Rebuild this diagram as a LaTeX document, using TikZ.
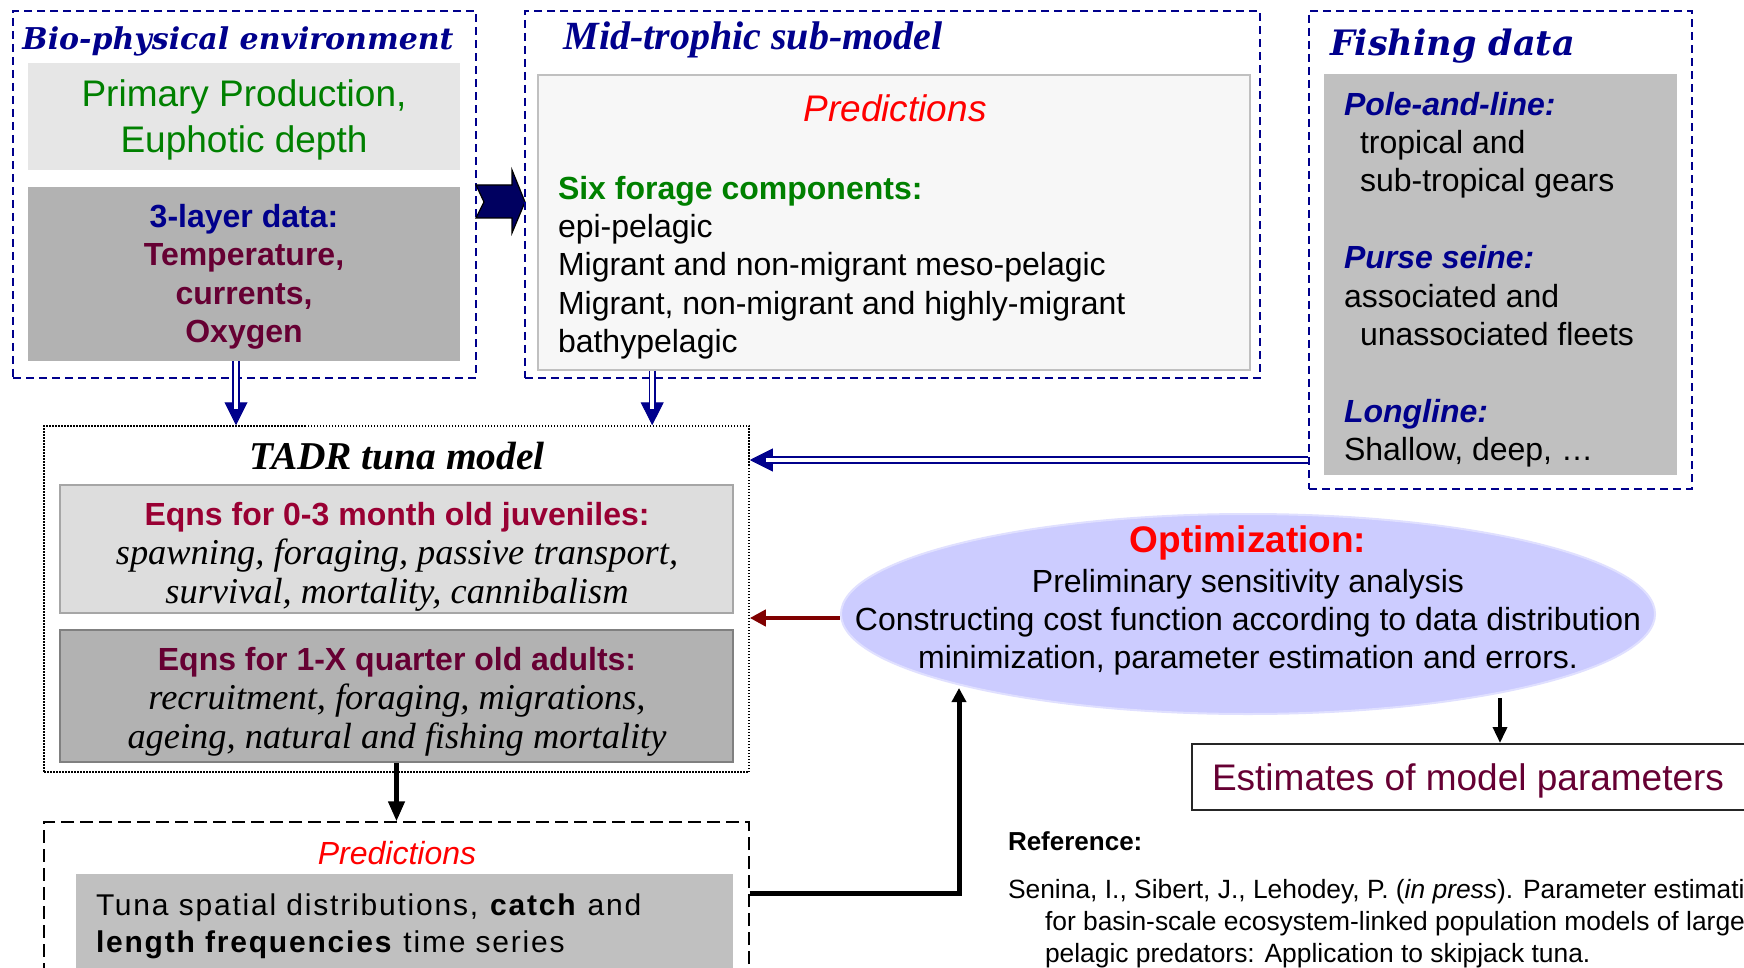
\documentclass[tikz,border=0pt]{standalone}
\usepackage{fontspec}
\setmainfont{Liberation Sans}
\newfontfamily\headserif{DejaVu Serif}
\newfontfamily\bodyserif{Liberation Serif}
\newfontfamily\spacedsans{Liberation Sans}[LetterSpace=6.0]
\usetikzlibrary{arrows.meta,shapes.geometric,fit}

\definecolor{navy}{RGB}{0,0,140}
\definecolor{blockblue}{RGB}{0,0,96}
\definecolor{leafgreen}{RGB}{0,128,0}
\definecolor{wine}{RGB}{102,0,51}
\definecolor{crimson}{RGB}{153,0,51}
\definecolor{brightred}{RGB}{255,0,0}
\definecolor{darkred}{RGB}{128,0,0}
\definecolor{lavender}{RGB}{204,204,255}
\definecolor{grayE}{RGB}{230,230,230}
\definecolor{grayF}{RGB}{247,247,247}
\definecolor{grayD}{RGB}{221,221,221}
\definecolor{grayC}{RGB}{192,192,192}
\definecolor{grayB}{RGB}{178,178,178}
\definecolor{grayA}{RGB}{166,166,166}
\definecolor{grayEight}{RGB}{128,128,128}

\newcommand{\fsz}[2]{\fontsize{#1}{#2}\selectfont}

\begin{document}
\begin{tikzpicture}[x=0.5pt, y=-0.5pt,
  envbox/.style={draw=navy, line width=1pt, dash pattern=on 4pt off 2.5pt, inner sep=0pt},
  panel/.style={inner sep=0pt},
  lbl/.style={inner sep=0pt, outer sep=0pt},
  dblshaft/.style={draw=navy, line width=0.9pt, double=white, double distance=1.8pt, shorten >=8pt},
  dblhead/.style={draw=navy, line width=0.5pt, -{Triangle[length=11.5pt,width=11.5pt]}},
  blk/.style={draw=black, line width=2.2pt, -{Triangle[length=10pt,width=8pt]}}]
\fill[white] (0,0) rectangle (1744,968);
\useasboundingbox (0,0) rectangle (1744,968);
%Bio-physical environment
\node[envbox, fit={(13,11) (476,378)}] (bio) {};
\node[lbl, anchor=base, text=navy, font=\headserif\bfseries\itshape\fsz{15}{18}] (bioTitle) at (238,50) {Bio-physical environment};
\node[panel, fill=grayE, fit={(28,63) (460,170)}] (bioPP) {};
\node[lbl, align=center, text=leafgreen, font=\fsz{18.5}{23}] (bioPPText) at ([yshift=-1.7pt]bioPP.center) {Primary Production,\\Euphotic depth};
\node[panel, fill=grayB, fit={(28,187) (460,361)}] (bioData) {};
\node[lbl, align=center, font=\bfseries\fsz{16}{19.2}] (bioDataText) at ([yshift=-1.4pt]bioData.center) {\textcolor{navy}{3-layer data:}\\\textcolor{wine}{Temperature,}\\\textcolor{wine}{currents,}\\\textcolor{wine}{Oxygen}};
\filldraw[fill=blockblue, draw=black, line width=0.6pt] (476,185) -- (512,185) -- (512,170) -- (525,202) -- (512,233) -- (512,218) -- (476,218) -- (484,202) -- cycle;
%Mid-trophic sub-model
\node[envbox, fit={(525,11) (1260,378)}] (mid) {};
\node[lbl, anchor=base, text=navy, font=\bodyserif\bfseries\itshape\fsz{20}{23}] (midTitle) at (753,50) {Mid-trophic sub-model};
\node[panel, fill=grayF, draw=grayC, line width=0.8pt, fit={(538,75) (1250,370)}] (midPred) {};
\node[lbl, anchor=base, text=brightred, font=\itshape\fsz{18.5}{22}] (midPredTitle) at (895,122) {Predictions};
\node[lbl, anchor=north west, align=left, font=\fsz{16}{19.2}] (forage) at (558,176) {\textcolor{leafgreen}{\bfseries Six forage components:}\\epi-pelagic\\Migrant and non-migrant meso-pelagic\\Migrant, non-migrant and highly-migrant\\bathypelagic};
%Fishing data
\node[envbox, fit={(1309,11) (1692,489)}] (fish) {};
\node[lbl, anchor=base west, text=navy, font=\headserif\bfseries\itshape\fsz{17.5}{21}] (fishTitle) at (1330,56) {Fishing data};
\node[panel, fill=grayC, fit={(1324,74) (1677,475)}] (gears) {};
\node[lbl, anchor=north west, align=left, font=\fsz{16}{19.2}] (gearText) at (1344,92) {\textcolor{navy}{\bfseries\itshape Pole-and-line:}\\
\hspace*{8pt}tropical and\\
\hspace*{8pt}sub-tropical gears\\[19.2pt]
\textcolor{navy}{\bfseries\itshape Purse seine:}\\
associated and\\
\hspace*{8pt}unassociated fleets\\[19.2pt]
\textcolor{navy}{\bfseries\itshape Longline:}\\
Shallow, deep, …};
%TADR tuna model
\node[draw, line width=0.75pt, dash pattern=on 0.75pt off 0.75pt, inner sep=0pt, fit={(44,426) (749,772)}] (tadr) {};
\node[lbl, anchor=base, font=\bodyserif\bfseries\itshape\fsz{19.7}{23}] (tadrTitle) at (397,469) {TADR tuna model};
\node[panel, fill=grayD, draw=grayA, line width=0.8pt, fit={(60,485) (733,613)}] (juv) {};
\node[lbl, anchor=base, text=crimson, font=\bfseries\fsz{16}{19.2}] (juvHead) at (397,525) {Eqns for 0-3 month old juveniles:};
\node[lbl, anchor=north, align=center, font=\bodyserif\itshape\fsz{18.2}{19.5}] (juvBody) at (397,539) {spawning, foraging, passive transport,\\survival, mortality, cannibalism};
\node[panel, fill=grayB, draw=grayEight, line width=0.8pt, fit={(60,630) (733,762)}] (adult) {};
\node[lbl, anchor=base, text=wine, font=\bfseries\fsz{16}{19.2}] (adultHead) at (397,670) {Eqns for 1-X quarter old adults:};
\node[lbl, anchor=north, align=center, font=\bodyserif\itshape\fsz{18.2}{19.5}] (adultBody) at (397,684) {recruitment, foraging, migrations,\\ageing, natural and fishing mortality};
%Predictions
\node[draw, line width=0.7pt, dash pattern=on 6.5pt off 3pt, inner sep=0pt, fit={(44,822) (749,1000)}] (pred) {};
\node[lbl, anchor=base, text=brightred, font=\itshape\fsz{16}{19}] (predTitle) at (397,864) {Predictions};
\node[panel, fill=grayC, fit={(76,874) (733,1000)}] (series) {};
\node[lbl, anchor=north west, align=left, font=\spacedsans\fsz{15}{18.5}] (seriesText) at (96,894) {Tuna spatial distributions, \textbf{catch} and\\\textbf{length frequencies} time series};
%Optimization
\node[ellipse, fill=lavender, draw=lavender!60!white, line width=1pt, minimum width=407pt, minimum height=100pt, inner sep=0pt] (opt) at (1248,614) {};
\node[lbl, anchor=base, text=brightred, font=\bfseries\fsz{18.5}{22}] (optHead) at (1248,552) {Optimization:};
\node[lbl, anchor=north, align=center, font=\fsz{16}{19}] (optBody) at (1248,569) {Preliminary sensitivity analysis\\Constructing cost function according to data distribution\\minimization, parameter estimation and errors.};
\node[draw=black!85, line width=1pt, fill=white, inner sep=0pt, fit={(1192,744) (1770,810)}] (est) {};
\node[lbl, anchor=base west, text=wine, font=\fsz{18.5}{22}] (estText) at (1212,790) {Estimates of model parameters};
%Reference
\node[lbl, anchor=base west, font=\bfseries\fsz{13}{16}] (refHead) at (1008,850) {Reference:};
\node[lbl, anchor=north west, align=left, font=\fsz{13.2}{16}] (refBody) at (1008,879) {Senina, I., Sibert, J., Lehodey, P. (\textit{in press}). Parameter estimation\\\hspace*{18.5pt}for basin-scale ecosystem-linked population models of large\\\hspace*{18.5pt}pelagic predators: Application to skipjack tuna.};
%Connectors
\coordinate (bioOut) at ([xshift=-4pt]bioData.south);
\coordinate (midOut) at ([xshift=57.5pt]midPred.south west);
\coordinate (fishOut) at (fish.west |- 0,460);
\foreach \src in {bioOut, midOut} {
  \draw[dblhead] (\src) -- (\src |- tadr.north);
  \draw[dblshaft] (\src) -- (\src |- tadr.north);
}
\draw[dblhead] (fishOut) -- (fishOut -| tadr.east);
\draw[dblshaft] (fishOut) -- (fishOut -| tadr.east);
\draw[draw=darkred, line width=2pt, -{Triangle[length=8pt,width=8pt]}] ([yshift=-2pt]opt.west) -- ([yshift=-2pt]opt.west -| tadr.east);
\draw[blk] (adult.south) -- (adult.south |- pred.north);
\coordinate (predOut) at ([yshift=9pt]pred.east);
\coordinate (optIn) at (959,688);
\draw[blk, line width=2.5pt, -{Triangle[length=7pt,width=7pt]}] (predOut) -| (optIn);
\coordinate (optOut) at (1500,698);
\draw[blk, line width=1.8pt, -{Triangle[length=8pt,width=7pt]}] (optOut) -- (optOut |- est.north);
\end{tikzpicture}
\end{document}
